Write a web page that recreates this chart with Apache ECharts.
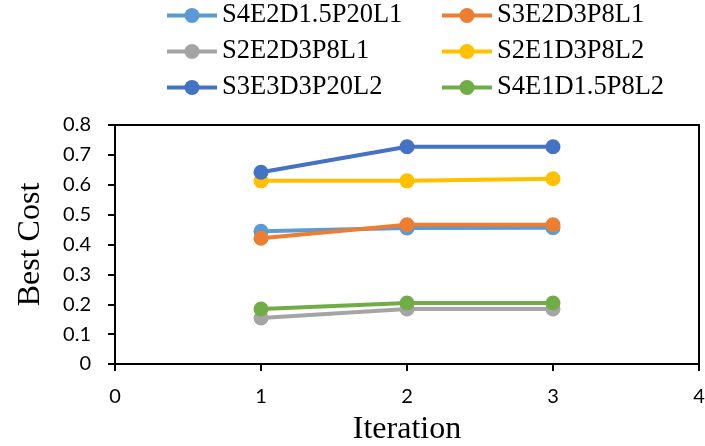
<!DOCTYPE html>
<html>
<head>
<meta charset="utf-8">
<script src="https://cdn.jsdelivr.net/npm/echarts@6/dist/echarts.min.js"></script>
<style>html,body{margin:0;padding:0;background:#fff}#c{width:705px;height:446px}</style>
</head>
<body>
<div id="c"></div>
<script>
const iterations = [1, 2, 3];
const seriesNames = ['S4E2D1.5P20L1', 'S3E2D3P8L1', 'S2E2D3P8L1', 'S2E1D3P8L2', 'S3E3D3P20L2', 'S4E1D1.5P8L2'];
const s4e2d15p20l1 = [0.444, 0.455, 0.456];
const s3e2d3p8l1 = [0.421, 0.466, 0.466];
const s2e2d3p8l1 = [0.154, 0.184, 0.184];
const s2e1d3p8l2 = [0.613, 0.613, 0.620];
const s3e3d3p20l2 = [0.642, 0.727, 0.727];
const s4e1d15p8l2 = [0.184, 0.204, 0.204];
const yTicks = [0, 0.1, 0.2, 0.3, 0.4, 0.5, 0.6, 0.7, 0.8];
const xTicks = [0, 1, 2, 3, 4];

const values = [s4e2d15p20l1, s3e2d3p8l1, s2e2d3p8l1, s2e1d3p8l2, s3e3d3p20l2, s4e1d15p8l2];
const colors = ['#5B9BD5', '#ED7D31', '#A5A5A5', '#FFC000', '#4472C4', '#70AD47'];

const legendPos = [
  {left: 160, top: -3}, {left: 435, top: -3},
  {left: 160, top: 33}, {left: 435, top: 33},
  {left: 160, top: 69}, {left: 435, top: 69}
];

const chart = echarts.init(document.getElementById('c'), null, {renderer: 'canvas'});
chart.setOption({
  animation: false,
  color: colors,
  legend: seriesNames.map((n, i) => ({
    data: [n],
    left: legendPos[i].left,
    top: legendPos[i].top,
    itemWidth: 50,
    itemHeight: 19,
    lineStyle: {width: 4},
    textStyle: {fontFamily: 'Liberation Serif', fontSize: 26.5, color: '#000'}
  })),
  grid: {left: 115, right: 6, top: 125, bottom: 82, show: true, borderColor: '#000', borderWidth: 2,
    containLabel: false, outerBoundsMode: 'none'},
  xAxis: {
    type: 'value', min: xTicks[0], max: xTicks[xTicks.length - 1], interval: 1,
    name: 'Iteration', nameLocation: 'middle', nameGap: 50,
    nameTextStyle: {fontFamily: 'Liberation Serif', fontSize: 32, color: '#000'},
    axisLine: {show: true, lineStyle: {color: '#000', width: 2}},
    axisTick: {show: true, length: 7, lineStyle: {color: '#000', width: 2}},
    axisLabel: {fontFamily: 'Lato', fontSize: 20, color: '#000', margin: 23},
    splitLine: {show: false}
  },
  yAxis: {
    type: 'value', min: yTicks[0], max: yTicks[yTicks.length - 1], interval: 0.1,
    name: 'Best Cost', nameLocation: 'middle', nameGap: 68, nameRotate: 90,
    nameTextStyle: {fontFamily: 'Liberation Serif', fontSize: 32, color: '#000'},
    axisLine: {show: true, lineStyle: {color: '#000', width: 2}},
    axisTick: {show: true, length: 7, lineStyle: {color: '#000', width: 2}},
    axisLabel: {fontFamily: 'Lato', fontSize: 20, color: '#000', margin: 24,
      formatter: v => String(Math.round(v * 10) / 10)},
    splitLine: {show: false}
  },
  series: seriesNames.map((n, i) => ({
    name: n,
    type: 'line',
    data: iterations.map((x, j) => [x, values[i][j]]),
    symbol: 'circle',
    symbolSize: 15,
    showSymbol: true,
    lineStyle: {width: 4, color: colors[i]},
    itemStyle: {color: colors[i]}
  }))
});
</script>
</body>
</html>
